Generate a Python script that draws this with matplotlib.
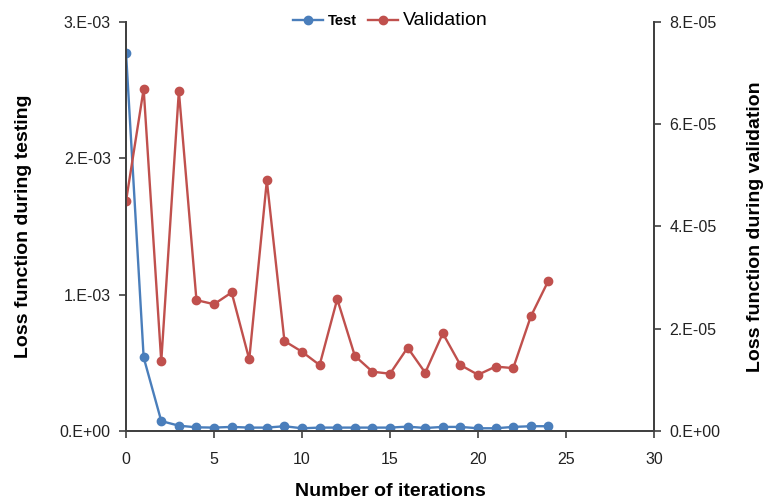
import matplotlib
matplotlib.use('Agg')
import matplotlib.pyplot as plt
from matplotlib.ticker import FuncFormatter

plt.rcParams['font.family'] = ['Liberation Sans', 'DejaVu Sans']

# data
iterations = list(range(25))
test_loss = [2.77e-3, 5.4e-4, 7.3e-5, 3.9e-5, 2.7e-5, 2.5e-5, 3.0e-5, 2.5e-5, 2.5e-5,
             3.5e-5, 2.0e-5, 2.5e-5, 2.5e-5, 2.5e-5, 2.5e-5, 2.5e-5, 3.2e-5, 2.2e-5,
             3.0e-5, 3.0e-5, 2.0e-5, 2.0e-5, 3.0e-5, 3.5e-5, 3.5e-5]
val_loss = [4.50e-5, 6.69e-5, 1.36e-5, 6.65e-5, 2.56e-5, 2.48e-5, 2.71e-5, 1.40e-5, 4.90e-5,
            1.76e-5, 1.55e-5, 1.29e-5, 2.58e-5, 1.47e-5, 1.16e-5, 1.12e-5, 1.63e-5, 1.14e-5,
            1.91e-5, 1.29e-5, 1.10e-5, 1.26e-5, 1.23e-5, 2.24e-5, 2.94e-5]
left_ticks = [0, 1e-3, 2e-3, 3e-3]
right_ticks = [0, 2e-5, 4e-5, 6e-5, 8e-5]
x_ticks = [0, 5, 10, 15, 20, 25, 30]

BLUE = '#4a7ebb'
RED = '#c0504d'


def sci_fmt(v, pos):
    if v == 0:
        return '0.E+00'
    s = '%.0E' % v
    m, e = s.split('E')
    return '%s.E%s' % (m, e)


fig = plt.figure(figsize=(7.64, 5.0), dpi=100)
ax = fig.add_axes([0.165, 0.138, 0.691, 0.818])
ax2 = ax.twinx()

l1, = ax.plot(iterations, test_loss, '-o', color=BLUE, lw=1.7, ms=6, label='Test')
l2, = ax2.plot(iterations, val_loss, '-o', color=RED, lw=1.7, ms=6, label='Validation')

ax.set_xlim(0, 30)
ax.set_ylim(0, 3e-3)
ax2.set_ylim(0, 8e-5)
ax.set_xticks(x_ticks)
ax.set_yticks(left_ticks)
ax2.set_yticks(right_ticks)
ax.yaxis.set_major_formatter(FuncFormatter(sci_fmt))
ax2.yaxis.set_major_formatter(FuncFormatter(sci_fmt))

for a in (ax, ax2):
    a.spines['top'].set_visible(False)
    for sp in a.spines.values():
        sp.set_color('#404040')
        sp.set_linewidth(1.3)
    a.tick_params(direction='out', length=5, width=1.2, color='#404040',
                  labelsize=11.5, labelcolor='#222222', pad=6)
ax.tick_params(axis='x', pad=10)

ax.set_xlabel('Number of iterations', fontsize=14, fontweight='bold', labelpad=12)
ax.set_ylabel('Loss function during testing', fontsize=14, fontweight='bold', labelpad=20)
ax2.set_ylabel('Loss function during validation', fontsize=14, fontweight='bold',
               rotation=90, labelpad=19)

leg = ax.legend([l1, l2], ['Test', 'Validation'], loc='upper center',
                bbox_to_anchor=(0.5, 1.055), ncol=2, frameon=False,
                handlelength=2.2, columnspacing=0.8, handletextpad=0.3)
txt = leg.get_texts()
txt[0].set_fontweight('bold')
txt[0].set_fontsize(10.5)
txt[1].set_fontsize(14)

plt.savefig('out.png', dpi=100)
